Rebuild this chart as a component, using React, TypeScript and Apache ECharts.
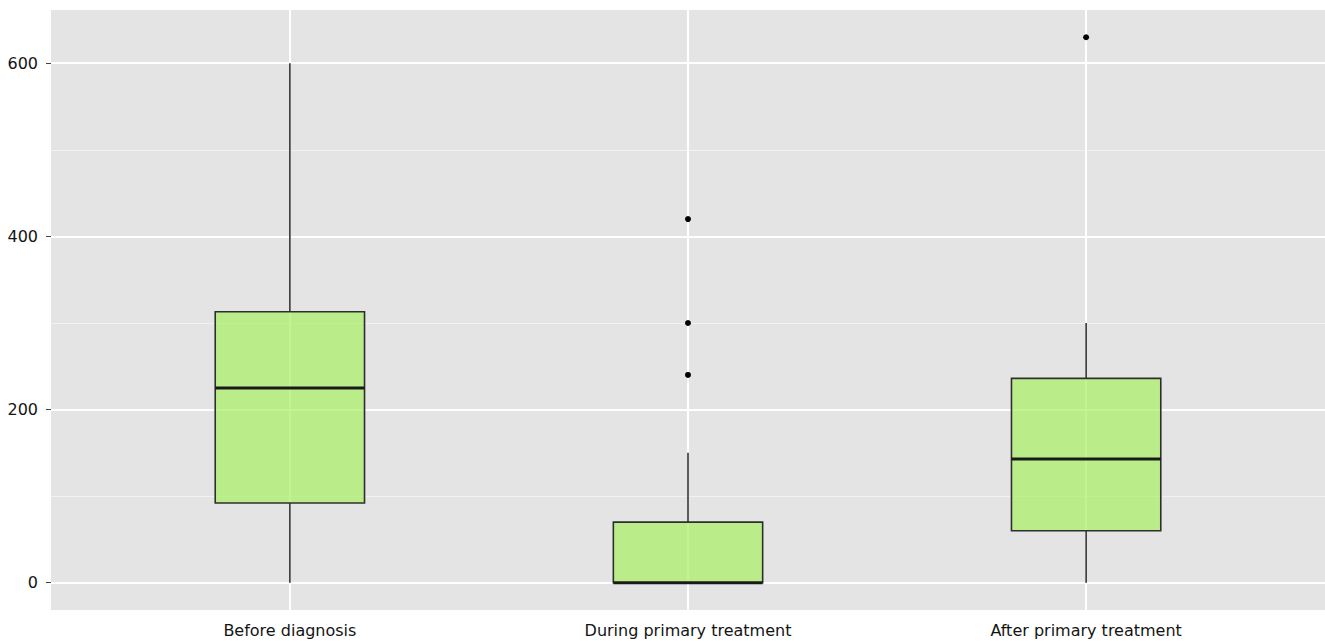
import React, { useEffect, useRef } from "react";
import * as echarts from "echarts";

const categories = ["Before diagnosis", "During primary treatment", "After primary treatment"];
const whiskerLow = [0, 0, 0];
const quartile1 = [92, 0, 60];
const medians = [225, 0, 143];
const quartile3 = [313, 70, 236];
const whiskerHigh = [600, 150, 300];
const outlierGroup = [2, 2, 2, 3];
const outlierValues = [420, 300, 240, 630];
const majorTicks = [0, 200, 400, 600];
const minorTicks = [100, 300, 500];

export default function App() {
  const ref = useRef<HTMLDivElement>(null);
  useEffect(() => {
    if (!ref.current) return;
    const chart = echarts.init(ref.current, null, { renderer: "svg" });
    const boxData = categories.map((_, i) => [
      i + 1,
      whiskerLow[i],
      quartile1[i],
      medians[i],
      quartile3[i],
      whiskerHigh[i],
    ]);
    const outlierData = outlierValues.map((v, i) => [outlierGroup[i], v]);
    const boxWidthUnits = 0.375;
    const font = "DejaVu Sans";

    const gridLines: any[] = [
      ...minorTicks.map((v) => ({ yAxis: v, lineStyle: { width: 1, color: "#f2f2f2", type: "solid" } })),
      ...majorTicks.map((v) => ({ yAxis: v, lineStyle: { width: 2, color: "#ffffff", type: "solid" } })),
      ...categories.map((_, i) => ({ xAxis: i + 1, lineStyle: { width: 2, color: "#ffffff", type: "solid" } })),
    ];

    chart.setOption({
      animation: false,
      textStyle: { fontFamily: font },
      grid: {
        left: 51,
        top: 10,
        right: 0,
        bottom: 31,
        show: true,
        backgroundColor: "#e4e4e4",
        borderWidth: 0,
        containLabel: false,
      },
      xAxis: {
        type: "value",
        min: 0.4,
        max: 3.6,
        axisLine: { show: false },
        splitLine: { show: false },
        axisTick: {
          show: true,
          customValues: [1, 2, 3],
          length: 5,
          lineStyle: { color: "#444", width: 1 },
        },
        axisLabel: {
          customValues: [1, 2, 3],
          formatter: (v: number) => categories[Math.round(v) - 1] ?? "",
          fontSize: 16,
          color: "#141414",
          fontFamily: font,
          margin: 12,
        },
      },
      yAxis: {
        type: "value",
        min: -31.5,
        max: 661.5,
        axisLine: { show: false },
        splitLine: { show: false },
        axisTick: {
          show: true,
          customValues: majorTicks,
          length: 5,
          lineStyle: { color: "#444", width: 1 },
        },
        axisLabel: {
          customValues: majorTicks,
          fontSize: 16,
          color: "#141414",
          fontFamily: font,
          margin: 13,
        },
      },
      series: [
        {
          type: "line",
          data: [],
          z: 1,
          silent: true,
          markLine: {
            silent: true,
            z: 1,
            symbol: ["none", "none"],
            label: { show: false },
            animation: false,
            lineStyle: { type: "solid" },
            data: gridLines,
          },
        },
        {
          type: "custom",
          z: 2,
          data: boxData,
          encode: { x: 0, y: [1, 2, 3, 4, 5] },
          renderItem: (params: any, api: any) => {
            const x = api.value(0);
            const lo = api.coord([x, api.value(1)]);
            const q1 = api.coord([x, api.value(2)]);
            const md = api.coord([x, api.value(3)]);
            const q3 = api.coord([x, api.value(4)]);
            const hi = api.coord([x, api.value(5)]);
            const half = api.size([boxWidthUnits, 0])[0] / 2;
            return {
              type: "group",
              children: [
                {
                  type: "line",
                  shape: { x1: lo[0], y1: lo[1], x2: q1[0], y2: q1[1] },
                  style: { stroke: "#333333", lineWidth: 1.6 },
                },
                {
                  type: "line",
                  shape: { x1: q3[0], y1: q3[1], x2: hi[0], y2: hi[1] },
                  style: { stroke: "#333333", lineWidth: 1.6 },
                },
                {
                  type: "rect",
                  shape: { x: q3[0] - half, y: q3[1], width: half * 2, height: q1[1] - q3[1] },
                  style: { fill: "rgba(170,240,100,0.7)", stroke: "#2e2e2e", lineWidth: 1.6 },
                },
                {
                  type: "line",
                  shape: { x1: md[0] - half, y1: md[1], x2: md[0] + half, y2: md[1] },
                  style: { stroke: "#1a1a1a", lineWidth: 3 },
                },
              ],
            };
          },
        },
        {
          type: "scatter",
          z: 3,
          data: outlierData,
          symbol: "circle",
          symbolSize: 6,
          itemStyle: { color: "#000000", opacity: 1 },
        },
      ],
    });
    return () => chart.dispose();
  }, []);
  return (
    <div
      ref={ref}
      style={{ position: "fixed", left: 0, top: 0, width: 1325, height: 641, background: "#ffffff" }}
    />
  );
}
